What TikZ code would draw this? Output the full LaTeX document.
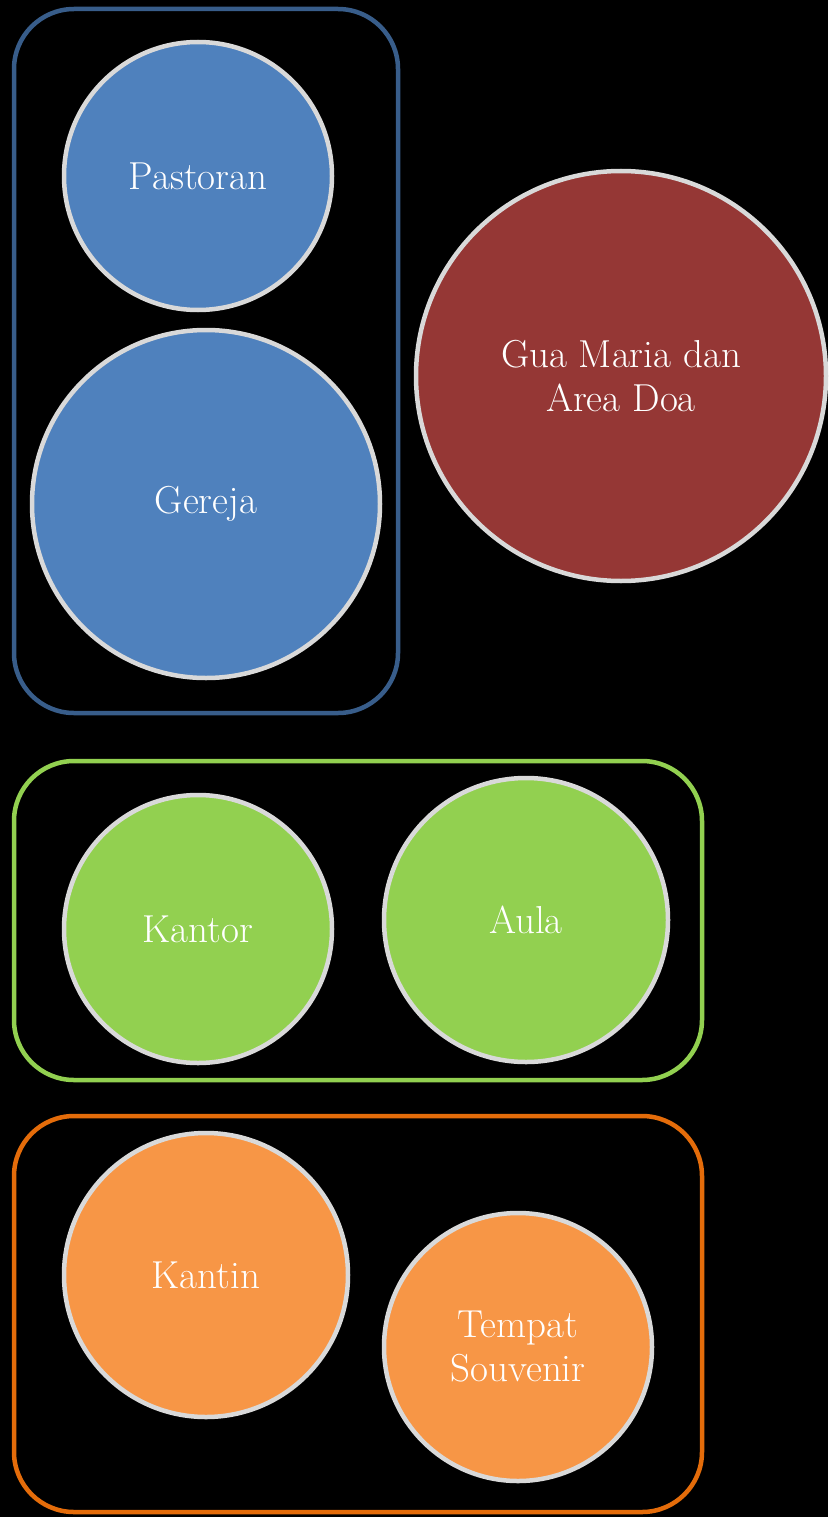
\documentclass[tikz,border=0pt]{standalone}
\usepackage{tikz}

\definecolor{blok}{HTML}{4F81BD}
\definecolor{blokline}{HTML}{385D8A}
\definecolor{gua}{HTML}{953735}
\definecolor{hijau}{HTML}{92D050}
\definecolor{oranye}{HTML}{F79646}
\definecolor{oranyeline}{HTML}{E46C0A}
\definecolor{rim}{HTML}{D9D9D9}

\begin{document}
\begin{tikzpicture}[x=1pt,y=-1pt,
	area/.style={circle,draw=rim,line width=4.5pt,inner sep=0pt,text=white,
		align=center,font=\fontsize{39}{44}\selectfont},
	group/.style={line width=4.5pt,rounded corners=60pt}]
	\fill[black] (0,0) rectangle (828,1517);
	% kelompok gereja
	\draw[group,draw=blokline] (14,9) rectangle (398,713);
	\node[area,fill=blok,minimum size=268pt] (pastoran) at (198,176) {Pastoran};
	\node[area,fill=blok,minimum size=348pt] (gereja) at (206,504) {Gereja};
	\node[area,fill=gua,minimum size=410pt] (guamaria) at (621,376) {Gua Maria dan\\Area Doa};
	% kelompok kantor
	\draw[group,draw=hijau] (14,761) rectangle (702,1080);
	\node[area,fill=hijau,minimum size=268pt] (kantor) at (198,929) {Kantor};
	\node[area,fill=hijau,minimum size=284pt] (aula) at (526,920) {Aula};
	% kelompok kantin
	\draw[group,draw=oranyeline] (14,1116) rectangle (702,1512);
	\node[area,fill=oranye,minimum size=284pt] (kantin) at (206,1275) {Kantin};
	\node[area,fill=oranye,minimum size=268pt] (souvenir) at (518,1347) {Tempat\\Souvenir};
\end{tikzpicture}
\end{document}
